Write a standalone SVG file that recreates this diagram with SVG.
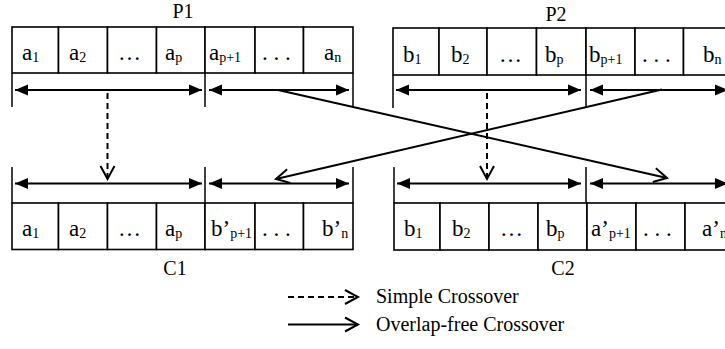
<svg xmlns="http://www.w3.org/2000/svg" width="725" height="349" viewBox="0 0 725 349">
<style>
.cell{fill:#fff;stroke:#000;stroke-width:1.6}
.t{font-family:"Liberation Serif","Times New Roman",serif;font-size:23px;fill:#000}
.lbl{font-family:"Liberation Serif","Times New Roman",serif;font-size:20px;fill:#000}
.s{font-size:14px}
.tick{stroke:#000;stroke-width:1.5}
.dbl{stroke:#000;stroke-width:2.2;fill:none;marker-start:url(#fh);marker-end:url(#fh)}
.cross{stroke:#000;stroke-width:2;fill:none;marker-end:url(#oh)}
.dash{stroke-dasharray:6,4}
</style>
<defs>
<marker id="fh" markerUnits="userSpaceOnUse" markerWidth="14" markerHeight="12" refX="13" refY="6" orient="auto-start-reverse">
<path d="M0,0.5 L13,6 L0,11.5 z" fill="#000"/>
</marker>
<marker id="oh" markerUnits="userSpaceOnUse" markerWidth="16" markerHeight="18" refX="14" refY="8" orient="auto" overflow="visible">
<path d="M1,1 L14,8 L1,15" fill="none" stroke="#000" stroke-width="2"/>
</marker>
</defs>

<g id="P1">
<text class="lbl" x="183" y="18" text-anchor="middle">P1</text>
<rect class="cell" x="12" y="27" width="46.5" height="46"/>
<rect class="cell" x="58.5" y="27" width="49" height="46"/>
<rect class="cell" x="107.5" y="27" width="49" height="46"/>
<rect class="cell" x="156.5" y="27" width="48.5" height="46"/>
<rect class="cell" x="205" y="27" width="50" height="46"/>
<rect class="cell" x="255" y="27" width="48.5" height="46"/>
<rect class="cell" x="303.5" y="27" width="49.5" height="46"/>
<text class="t" x="22" y="60">a<tspan class="s" dy="2">1</tspan></text>
<text class="t" x="69" y="60">a<tspan class="s" dy="2">2</tspan></text>
<text class="t" x="118" y="60">…</text>
<text class="t" x="165" y="60">a<tspan class="s" dy="2">p</tspan></text>
<text class="t" x="209" y="60">a<tspan class="s" dy="2">p+1</tspan></text>
<text class="t" x="262" y="60">. . .</text>
<text class="t" x="324" y="60">a<tspan class="s" dy="2">n</tspan></text>
</g>

<g id="P2">
<text class="lbl" x="556" y="21" text-anchor="middle">P2</text>
<rect class="cell" x="393" y="28" width="46" height="47"/>
<rect class="cell" x="439" y="28" width="48" height="47"/>
<rect class="cell" x="487" y="28" width="49.5" height="47"/>
<rect class="cell" x="536.5" y="28" width="49.5" height="47"/>
<rect class="cell" x="586" y="28" width="49" height="47"/>
<rect class="cell" x="635" y="28" width="48.5" height="47"/>
<rect class="cell" x="683.5" y="28" width="49" height="47"/>
<text class="t" x="403" y="62">b<tspan class="s" dy="2">1</tspan></text>
<text class="t" x="451" y="62">b<tspan class="s" dy="2">2</tspan></text>
<text class="t" x="499" y="62">…</text>
<text class="t" x="545" y="62">b<tspan class="s" dy="2">p</tspan></text>
<text class="t" x="589" y="62">b<tspan class="s" dy="2">p+1</tspan></text>
<text class="t" x="642" y="62">. . .</text>
<text class="t" x="703" y="62">b<tspan class="s" dy="2">n</tspan></text>
</g>

<g id="C1">
<rect class="cell" x="12" y="203" width="46.5" height="46.5"/>
<rect class="cell" x="58.5" y="203" width="49" height="46.5"/>
<rect class="cell" x="107.5" y="203" width="49" height="46.5"/>
<rect class="cell" x="156.5" y="203" width="48.5" height="46.5"/>
<rect class="cell" x="205" y="203" width="50" height="46.5"/>
<rect class="cell" x="255" y="203" width="48.5" height="46.5"/>
<rect class="cell" x="303.5" y="203" width="49.5" height="46.5"/>
<text class="t" x="22" y="236">a<tspan class="s" dy="2">1</tspan></text>
<text class="t" x="69" y="236">a<tspan class="s" dy="2">2</tspan></text>
<text class="t" x="118" y="236">…</text>
<text class="t" x="165" y="236">a<tspan class="s" dy="2">p</tspan></text>
<text class="t" x="211" y="236">b’<tspan class="s" dy="2">p+1</tspan></text>
<text class="t" x="262" y="236">. . .</text>
<text class="t" x="322" y="236">b’<tspan class="s" dy="2">n</tspan></text>
<text class="lbl" x="175" y="275" text-anchor="middle">C1</text>
</g>

<g id="C2">
<rect class="cell" x="394" y="203" width="46" height="47"/>
<rect class="cell" x="440" y="203" width="49" height="47"/>
<rect class="cell" x="489" y="203" width="49" height="47"/>
<rect class="cell" x="538" y="203" width="49" height="47"/>
<rect class="cell" x="587" y="203" width="49" height="47"/>
<rect class="cell" x="636" y="203" width="49" height="47"/>
<rect class="cell" x="685" y="203" width="49" height="47"/>
<text class="t" x="404" y="236">b<tspan class="s" dy="2">1</tspan></text>
<text class="t" x="452" y="236">b<tspan class="s" dy="2">2</tspan></text>
<text class="t" x="500" y="236">…</text>
<text class="t" x="546" y="236">b<tspan class="s" dy="2">p</tspan></text>
<text class="t" x="591" y="236">a’<tspan class="s" dy="2">p+1</tspan></text>
<text class="t" x="643" y="236">. . .</text>
<text class="t" x="702" y="236">a’<tspan class="s" dy="2">n</tspan></text>
<text class="lbl" x="563" y="275" text-anchor="middle">C2</text>
</g>

<g id="connectors">
<line class="tick" x1="12" y1="73" x2="12" y2="107"/>
<line class="tick" x1="205" y1="73" x2="205" y2="107"/>
<line class="tick" x1="353" y1="73" x2="353" y2="107"/>
<line class="dbl" x1="15" y1="90" x2="202" y2="90"/>
<line class="dbl" x1="209" y1="90" x2="349" y2="90"/>
<line class="tick" x1="393" y1="75" x2="393" y2="108"/>
<line class="tick" x1="586" y1="75" x2="586" y2="108"/>
<line class="dbl" x1="396" y1="90" x2="581" y2="90"/>
<line class="dbl" x1="590" y1="90" x2="728" y2="90"/>
<line class="tick" x1="12" y1="167" x2="12" y2="203"/>
<line class="tick" x1="205" y1="167" x2="205" y2="203"/>
<line class="tick" x1="353" y1="167" x2="353" y2="203"/>
<line class="dbl" x1="15" y1="183.5" x2="202" y2="183.5"/>
<line class="dbl" x1="209" y1="183.5" x2="349" y2="183.5"/>
<line class="tick" x1="394" y1="167" x2="394" y2="203"/>
<line class="tick" x1="586" y1="167" x2="586" y2="203"/>
<line class="dbl" x1="397" y1="183.5" x2="581" y2="183.5"/>
<line class="dbl" x1="590" y1="183.5" x2="728" y2="183.5"/>
<line class="cross dash" x1="107.5" y1="93" x2="107.5" y2="179"/>
<line class="cross dash" x1="487" y1="93" x2="487" y2="179"/>
<line class="cross" x1="278" y1="90" x2="667" y2="178"/>
<line class="cross" x1="662" y1="89.5" x2="276" y2="179"/>
</g>

<g id="legend">
<line class="cross dash" x1="288" y1="297" x2="358" y2="297"/>
<text class="lbl" x="376" y="303">Simple Crossover</text>
<line class="cross" x1="288" y1="324.5" x2="358" y2="324.5"/>
<text class="lbl" x="376" y="331">Overlap-free Crossover</text>
</g>
</svg>
